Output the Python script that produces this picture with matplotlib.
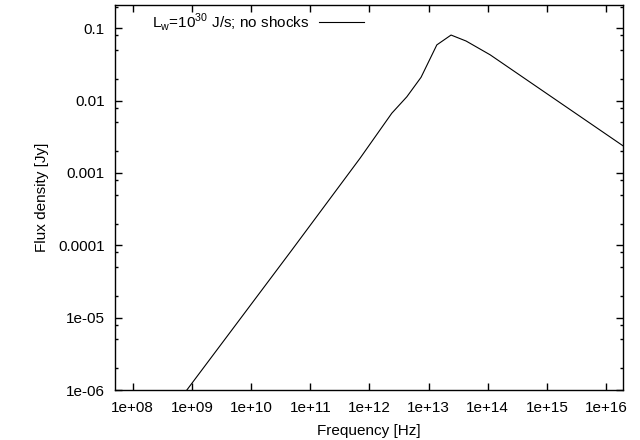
import matplotlib
matplotlib.use("Agg")
import matplotlib.pyplot as plt
import numpy as np
from matplotlib.ticker import FixedLocator, NullFormatter

plt.rcParams['font.family'] = ['Liberation Sans', 'DejaVu Sans']
plt.rcParams['mathtext.fontset'] = 'custom'
plt.rcParams['mathtext.rm'] = 'Liberation Sans'

freq = [8.2e8, 4.88e10, 6.95e11, 2.39e12, 4.29e12, 7.46e12, 1.38e13, 2.40e13, 4.31e13, 1.10e14, 1.96e16]
flux = [1.0e-6, 8.6e-5, 1.6e-3, 6.7e-3, 1.13e-2, 2.1e-2, 5.9e-2, 8.07e-2, 6.67e-2, 4.3e-2, 2.36e-3]

xticks = [1e8, 1e9, 1e10, 1e11, 1e12, 1e13, 1e14, 1e15, 1e16]
xticklabels = ["1e+08", "1e+09", "1e+10", "1e+11", "1e+12", "1e+13", "1e+14", "1e+15", "1e+16"]
yticks = [1e-6, 1e-5, 1e-4, 1e-3, 1e-2, 1e-1]
yticklabels = ["1e-06", "1e-05", "0.0001", "0.001", "0.01", "0.1"]

FS = 11

fig = plt.figure(figsize=(6.4, 4.4), dpi=100)
ax = fig.add_axes([115/640, 1-390/440, (623.3-115)/640, (390-5)/440])
ax.plot(freq, flux, color='black', lw=0.8, label=r"L$_\mathregular{w}$=10$^\mathregular{30}$ J/s; no shocks")
ax.set_xscale('log')
ax.set_yscale('log')
ax.set_xlim(5.0e7, 1.96e16)
ax.set_ylim(1e-6, 0.21)

ax.xaxis.set_major_locator(FixedLocator(xticks))
ax.set_xticklabels(xticklabels)
ax.xaxis.set_minor_locator(FixedLocator([]))
ax.yaxis.set_major_locator(FixedLocator(yticks))
ax.set_yticklabels(yticklabels)
minor = [m * 10.0**e for e in range(-7, 0) for m in (2, 5, 8)]
ax.yaxis.set_minor_locator(FixedLocator(minor))
ax.yaxis.set_minor_formatter(NullFormatter())

ax.tick_params(which='both', direction='in', top=True, right=True, labelsize=FS, color='black', width=1)
ax.tick_params(which='major', length=4.8)
ax.tick_params(which='minor', length=2.3)
ax.tick_params(axis='x', which='major', pad=8)
ax.tick_params(axis='y', which='major', pad=7.5)
for s in ax.spines.values():
    s.set_linewidth(1.0)

ax.set_xlabel("Frequency [Hz]", fontsize=FS, labelpad=6.6)
ax.set_ylabel("Flux density [Jy]", fontsize=FS, labelpad=6.5)

leg = ax.legend(loc='center left', frameon=False, fontsize=FS, markerfirst=False,
                handlelength=2.94, handletextpad=0.65, borderpad=0, borderaxespad=0,
                bbox_to_anchor=(0.0722, 0.956))

fig.savefig("out.png", dpi=100)
